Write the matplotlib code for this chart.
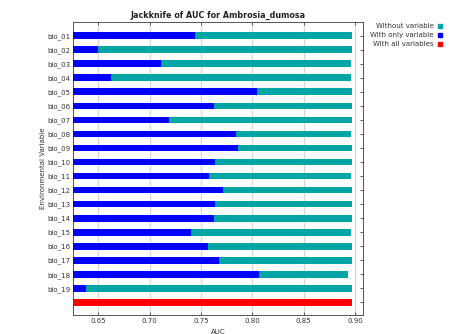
import numpy as np
import matplotlib
matplotlib.use("Agg")
import matplotlib.pyplot as plt

variables = ["bio_%02d" % i for i in range(1, 20)]
auc_without = [0.8969, 0.8969, 0.8960, 0.8960, 0.8975, 0.8975, 0.8969, 0.8963, 0.8969, 0.8969,
               0.8963, 0.8969, 0.8969, 0.8969, 0.8963, 0.8969, 0.8969, 0.8935, 0.8969]
auc_only = [0.7445, 0.6500, 0.7114, 0.6621, 0.8046, 0.7627, 0.7192, 0.7838, 0.7864, 0.7634,
            0.7578, 0.7715, 0.7640, 0.7624, 0.7400, 0.7572, 0.7676, 0.8066, 0.6377]
auc_all = 0.8969

xmin, xmax = 0.6254, 0.9078
teal = "#00a6a6"
blue = "#0000ff"
red = "#ff0000"

fig = plt.figure(figsize=(4.51, 3.34), dpi=100)
ax = fig.add_axes([0.162, 0.057, 0.643, 0.878])

y = np.arange(len(variables))
h = 0.48
ax.barh(y, np.array(auc_without) - xmin, left=xmin, height=h, color=teal, zorder=2)
ax.barh(y, np.array(auc_only) - xmin, left=xmin, height=h, color=blue, zorder=3)
ax.barh(len(variables), auc_all - xmin, left=xmin, height=h, color=red, zorder=3)

ax.set_xlim(xmin, xmax)
ax.set_ylim(len(variables) + 0.9, -1.0)
ax.set_yticks(list(y) + [len(variables)])
ax.set_yticklabels(variables + [""])
ax.set_xticks([0.65, 0.70, 0.75, 0.80, 0.85, 0.90])
ax.set_xticklabels(["0.65", "0.70", "0.75", "0.80", "0.85", "0.90"])
ax.grid(True, axis="x", color="#d6d6d6", linewidth=0.9, zorder=0)
ax.set_axisbelow(True)

ax.tick_params(axis="both", which="both", direction="in", length=2.5, width=0.6,
               labelsize=5, colors="#444444", labelcolor="#333333",
               top=True, right=True, pad=2)
for sp in ax.spines.values():
    sp.set_color("#555555")
    sp.set_linewidth(0.7)

ax.set_title("Jackknife of AUC for Ambrosia_dumosa", fontsize=5.8, fontweight="bold",
             color="#222222", pad=3)
ax.set_xlabel("AUC", fontsize=5, color="#333333", labelpad=4)
ax.set_ylabel("Environmental Variable", fontsize=5, color="#333333", labelpad=1)

# legend drawn outside the axes, text right-aligned next to square markers
legend_items = [("Without variable", teal), ("With only variable", blue), ("With all variables", red)]
for i, (label, col) in enumerate(legend_items):
    yy = 1 - (26.2 + i * 8.8) / 334
    fig.text(433.5 / 451, yy, label, ha="right", va="center", fontsize=5, color="#333333")
    fig.add_artist(plt.Line2D([439.5 / 451], [yy], marker="s", markersize=2.6,
                              color=col, linestyle="none", transform=fig.transFigure))

fig.savefig("out.png", dpi=100)
